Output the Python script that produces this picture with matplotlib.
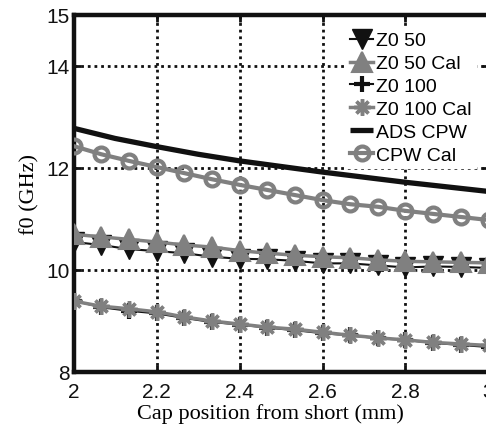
import matplotlib
matplotlib.use("Agg")
import matplotlib.pyplot as plt
import numpy as np

# Cap position along the line (mm), 16 measurement steps from 2 to 3 mm
cap_pos = np.linspace(2.0, 3.0, 16)

# Resonant frequency (GHz) for each configuration
z0_50 = [10.55, 10.49, 10.41, 10.37, 10.33, 10.26, 10.22, 10.21, 10.18, 10.13,
         10.13, 10.09, 10.05, 10.07, 10.06, 10.04]
z0_50_cal = [10.70, 10.65, 10.60, 10.55, 10.49, 10.45, 10.38, 10.33, 10.29, 10.26,
             10.24, 10.20, 10.17, 10.16, 10.15, 10.14]
z0_100 = [9.40, 9.27, 9.20, 9.15, 9.06, 8.98, 8.93, 8.87, 8.82, 8.76,
          8.72, 8.66, 8.63, 8.57, 8.53, 8.49]
z0_100_cal = [9.39, 9.29, 9.24, 9.18, 9.08, 9.00, 8.94, 8.88, 8.84, 8.78,
              8.72, 8.67, 8.63, 8.58, 8.55, 8.52]
cpw_cal = [12.43, 12.27, 12.14, 12.02, 11.90, 11.78, 11.67, 11.57, 11.47, 11.37,
           11.29, 11.24, 11.16, 11.10, 11.04, 10.98]

# ADS simulation of the CPW (continuous curve)
ads_pos = [2.0, 2.1, 2.2, 2.3, 2.4, 2.5, 2.6, 2.7, 2.8, 2.9, 3.0]
ads_cpw = [12.78, 12.58, 12.42, 12.27, 12.14, 12.03, 11.92, 11.82, 11.72, 11.63, 11.54]

x_ticks = [2, 2.2, 2.4, 2.6, 2.8, 3]
x_tick_labels = ["2", "2.2", "2.4", "2.6", "2.8", "3"]
y_ticks = [8, 10, 12, 14, 15]
y_tick_labels = ["8", "10", "12", "14", "15"]

GREY = "#808080"
BLACK = "#111111"
SANS = ["Liberation Sans", "DejaVu Sans"]
SERIF = ["Liberation Serif", "DejaVu Serif"]

fig = plt.figure(figsize=(4.86, 4.27), dpi=100)
ax = fig.add_axes([73.5 / 486, 54 / 427, 415 / 486, 357 / 427])

asterisk = (8, 2, 0)

ax.plot(cap_pos, z0_50, color=BLACK, lw=1.5, marker="v", ms=15,
        mfc=BLACK, mec=BLACK, mew=1.0, label="Z0 50", zorder=3)
ax.plot(cap_pos, z0_50_cal, color=GREY, lw=2.5, marker="^", ms=15,
        mfc=GREY, mec=GREY, mew=1.5, label="Z0 50 Cal", zorder=4)
ax.plot(cap_pos, z0_100, color=BLACK, lw=1.5, marker="+", ms=11,
        mec=BLACK, mew=3.0, label="Z0 100", zorder=3)
ax.plot(cap_pos, z0_100_cal, color=GREY, lw=2.5, marker=asterisk, ms=12,
        mec=GREY, mew=2.5, label="Z0 100 Cal", zorder=4)
ax.plot(ads_pos, ads_cpw, color=BLACK, lw=3.8, label="ADS CPW", zorder=3,
        solid_capstyle="butt")
ax.plot(cap_pos, cpw_cal, color=GREY, lw=3.0, marker="o", ms=10,
        mfc="none", mec=GREY, mew=3.0, label="CPW Cal", zorder=4)

ax.set_xlim(2, 3)
ax.set_ylim(8, 15)
ax.set_xticks(x_ticks)
ax.set_xticklabels(x_tick_labels, family=SANS, fontsize=15)
ax.set_yticks(y_ticks)
ax.set_yticklabels(y_tick_labels, family=SANS, fontsize=15)
ax.tick_params(direction="in", length=5, width=2, top=True, right=True,
               colors=BLACK, pad=3)
ax.tick_params(axis="x", pad=7)

# dotted grid only at the inner ticks
for gx in [2.2, 2.4, 2.6, 2.8]:
    ax.axvline(gx, color=BLACK, lw=2.0, ls=(0, (1, 1.4)), zorder=1)
for gy in [10, 12, 14]:
    ax.axhline(gy, color=BLACK, lw=2.0, ls=(0, (1, 1.4)), zorder=1)

for sp in ax.spines.values():
    sp.set_linewidth(3.2)
    sp.set_color(BLACK)

ax.set_xlabel("Cap position from short (mm)", family=SERIF, fontsize=16)
ax.set_ylabel("f0 (GHz)", family=SERIF, fontsize=16)
ax.xaxis.set_label_coords(0.4735, -0.087)
ax.yaxis.set_label_coords(-0.081, 0.5)

leg = ax.legend(loc="upper left", bbox_to_anchor=(346 / 486, 1 - 29 / 427),
                bbox_transform=fig.transFigure, frameon=True, fancybox=False,
                prop={"family": SANS, "size": 14}, numpoints=1,
                handlelength=1.2, handletextpad=0.15, labelspacing=0.27,
                borderpad=0.2, borderaxespad=0)
leg.get_frame().set_facecolor("white")
leg.get_frame().set_edgecolor("white")
leg.get_frame().set_alpha(1)
leg.set_zorder(10)

fig.savefig("out.png", dpi=100)
